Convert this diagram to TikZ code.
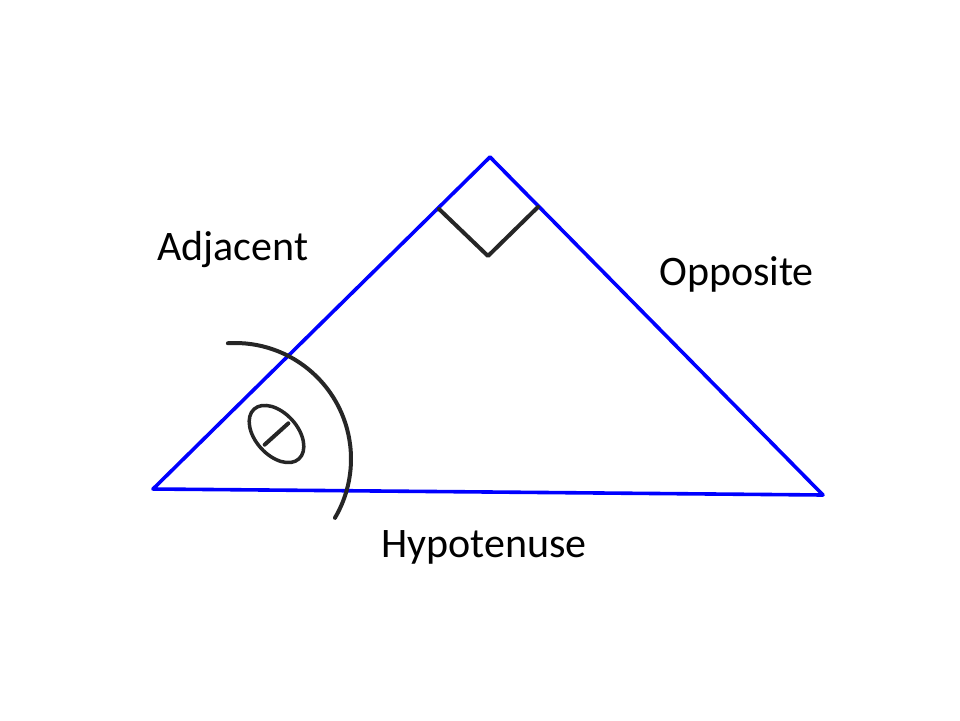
\documentclass[tikz,border=0pt]{standalone}
\usepackage{fontspec}
\setmainfont{Carlito}
\begin{document}
\begin{tikzpicture}[x=1pt,y=-1pt,
  side/.style={draw=blue,line width=3.6pt,line cap=round,line join=round},
  inkline/.style={draw=black!85,line width=4pt,line cap=round,line join=round},
  lbl/.style={anchor=base west,inner sep=0pt,font=\fontsize{42}{50}\selectfont}]
\useasboundingbox (0,0) rectangle (960,720);
\coordinate (L) at (153,489);
\coordinate (T) at (490,157);
\coordinate (R) at (823,495);
\draw[side] (L) -- (T) -- (R) -- (L);
\coordinate (m1) at (439,209);
\coordinate (m2) at (488,256);
\coordinate (m3) at (538,207);
\draw[inkline] (m1) -- (m2) -- (m3);
\coordinate (ac) at (235,459);
\draw[inkline] ([shift={(-93.5:116)}]ac) arc[start angle=-93.5,end angle=30.5,radius=116];
\coordinate (th) at (276.5,434);
\draw[inkline,line width=3.5pt,rotate around={-48:(th)}] (th) ellipse[x radius=33.5,y radius=21];
\draw[inkline,line width=4pt] ([shift={(-42:16)}]th) -- ([shift={(138:16)}]th);
\node[lbl] (adj) at (157,260) {Adjacent};
\node[lbl] (opp) at (659,285) {Opposite};
\node[lbl] (hyp) at (381,557) {Hypotenuse};
\end{tikzpicture}
\end{document}
